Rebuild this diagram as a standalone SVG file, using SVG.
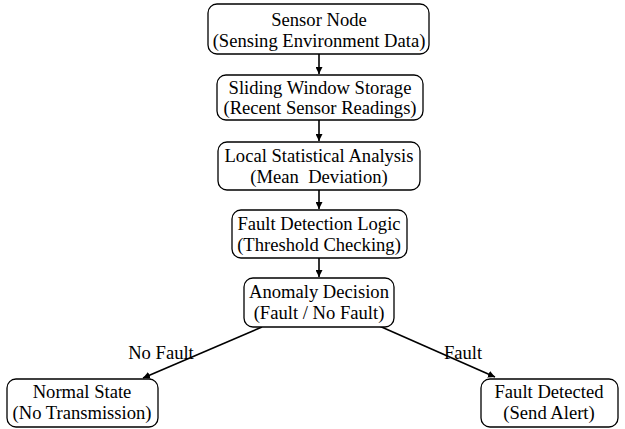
<svg xmlns="http://www.w3.org/2000/svg" width="625" height="429" viewBox="0 0 625 429">
<style>
.box{fill:#fff;stroke:#000;stroke-width:1.3}
text{font-family:"Liberation Serif","Times New Roman",serif;font-size:18.6px;fill:#000;text-anchor:middle;white-space:pre}
.conn line{stroke:#000;stroke-width:1.6}
</style>
<defs>
<marker id="ah" viewBox="0 0 10 10" refX="10" refY="5" markerWidth="7" markerHeight="7" markerUnits="userSpaceOnUse" orient="auto">
<path d="M0,0 L10,5 L0,10 z" fill="#000"/>
</marker>
</defs>
<rect width="625" height="429" fill="#fff"/>
<g class="conn">
<line x1="319" y1="54" x2="319" y2="74" marker-end="url(#ah)"/>
<line x1="319" y1="120" x2="319" y2="141" marker-end="url(#ah)"/>
<line x1="319" y1="190" x2="319" y2="209" marker-end="url(#ah)"/>
<line x1="319" y1="258" x2="319" y2="277" marker-end="url(#ah)"/>
<line x1="262" y1="327" x2="143" y2="378" marker-end="url(#ah)"/>
<line x1="377" y1="325" x2="495" y2="377" marker-end="url(#ah)"/>
</g>
<text x="161" y="359">No Fault</text>
<text x="463" y="359">Fault</text>
<g id="n1"><rect class="box" x="208" y="4" width="221" height="50" rx="9"/><text x="319" y="26">Sensor Node</text><text x="319" y="47">(Sensing Environment Data)</text></g>
<g id="n2"><rect class="box" x="217" y="75" width="206" height="45" rx="9"/><text x="320" y="94">Sliding Window Storage</text><text x="320" y="114">(Recent Sensor Readings)</text></g>
<g id="n3"><rect class="box" x="218" y="142" width="202" height="48" rx="9"/><text x="319" y="162">Local Statistical Analysis</text><text x="319" y="183" xml:space="preserve">(Mean  Deviation)</text></g>
<g id="n4"><rect class="box" x="232" y="210" width="175" height="48" rx="9"/><text x="319" y="230">Fault Detection Logic</text><text x="319" y="251">(Threshold Checking)</text></g>
<g id="n5"><rect class="box" x="244" y="278" width="150" height="49" rx="9"/><text x="319" y="298">Anomaly Decision</text><text x="319" y="319">(Fault / No Fault)</text></g>
<g id="n6"><rect class="box" x="7" y="379" width="151" height="48" rx="9"/><text x="82" y="398">Normal State</text><text x="82" y="419">(No Transmission)</text></g>
<g id="n7"><rect class="box" x="481" y="379" width="137" height="48" rx="9"/><text x="549" y="398">Fault Detected</text><text x="549" y="419">(Send Alert)</text></g>
</svg>
